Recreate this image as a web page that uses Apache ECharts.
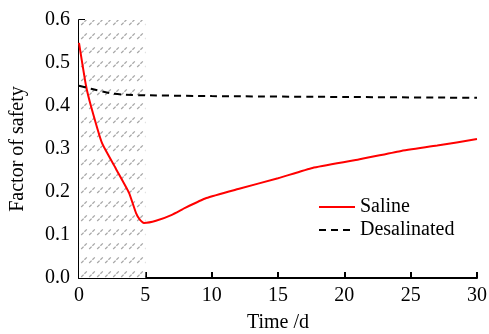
<!DOCTYPE html>
<html><head><meta charset="utf-8">
<script src="https://cdn.jsdelivr.net/npm/echarts@6/dist/echarts.min.js"></script>
<style>html,body{margin:0;padding:0;background:#fff}#c{width:489px;height:334px}</style>
</head><body><div id="c"></div>
<script>
const salineX = [0, 0.53, 0.9, 1.73, 2.8, 3.77, 4.3, 4.6, 4.9, 5.8, 7, 8, 9.6, 12, 15, 17.6, 21, 24.2, 27, 30];
const salineY = [0.547, 0.447, 0.40, 0.314, 0.253, 0.198, 0.151, 0.135, 0.128, 0.133, 0.147, 0.163, 0.186, 0.207, 0.232, 0.256, 0.275, 0.295, 0.308, 0.323];
const desalX = [0, 0.9, 2.3, 3.5, 5, 10, 20, 30];
const desalY = [0.447, 0.44, 0.43, 0.426, 0.425, 0.423, 0.421, 0.419];
const xTicks = [0, 5, 10, 15, 20, 25, 30];
const yLabels = [0, 0.1, 0.2, 0.3, 0.4, 0.5, 0.6];
const yTickStep = 0.12;
const hatchRange = [0, 5];

const pc = document.createElement('canvas');
pc.width = 8; pc.height = 14;
const g = pc.getContext('2d');
g.fillStyle = '#fff'; g.fillRect(0,0,8,14);
g.strokeStyle = '#a8a8a8'; g.lineWidth = 1.3;
g.beginPath(); g.moveTo(1.2, 11); g.lineTo(3.6, 8.6); g.moveTo(4.4, 7.8); g.lineTo(6.8, 5.4); g.stroke();

const font = '"Liberation Serif", "Times New Roman", serif';
const txt = {fontFamily: font, fontSize: 20, color: '#000'};
const chart = echarts.init(document.getElementById('c'));
chart.setOption({
  animation: false,
  textStyle: {fontFamily: font},
  grid: {left: 79, right: 12, top: 20, bottom: 56, containLabel: false, outerBoundsMode: 'none'},
  legend: {
    orient: 'vertical', left: 313, top: 192, itemWidth: 36, itemHeight: 10, itemGap: 3,
    itemStyle: {opacity: 0},
    textStyle: txt,
    data: ['Saline', 'Desalinated']
  },
  xAxis: {
    type: 'value', min: 0, max: 30, interval: 5,
    name: 'Time /d', nameLocation: 'middle', nameGap: 35,
    nameTextStyle: txt,
    axisLine: {lineStyle: {color: '#000', width: 2}},
    axisTick: {inside: true, length: 6, lineStyle: {color: '#000', width: 2}},
    axisLabel: Object.assign({margin: 8, formatter: v => xTicks.includes(v) ? String(v) : ''}, txt),
    splitLine: {show: false}
  },
  yAxis: [{
    type: 'value', min: 0, max: 0.6, interval: 0.1,
    name: 'Factor of safety', nameLocation: 'middle', nameGap: 51,
    nameTextStyle: txt,
    axisLine: {show: true, lineStyle: {color: '#000', width: 2}},
    axisTick: {show: false},
    axisLabel: Object.assign({margin: 9,
      formatter: v => yLabels.map(t=>t.toFixed(1)).includes(v.toFixed(1)) ? v.toFixed(1) : ''}, txt),
    splitLine: {show: false}
  }, {
    type: 'value', min: 0, max: 0.6, interval: yTickStep, position: 'left', offset: 0,
    axisLine: {show: false},
    axisTick: {show: true, inside: true, length: 6, lineStyle: {color: '#000', width: 2}},
    axisLabel: {show: false},
    splitLine: {show: false}
  }],
  series: [
    {
      name: 'Saline', type: 'line', symbol: 'none', smooth: 0.15, z: 3,
      lineStyle: {color: '#ff0000', width: 2}, itemStyle: {color: '#ff0000'},
      data: salineX.map((x, i) => [x, salineY[i]]),
      markArea: {
        silent: true, z: 1,
        itemStyle: {color: {image: pc, repeat: 'repeat'}},
        data: [[{xAxis: hatchRange[0], yAxis: 0}, {xAxis: hatchRange[1], yAxis: 0.6}]]
      }
    },
    {
      name: 'Desalinated', type: 'line', symbol: 'none', smooth: 0.15, z: 3,
      lineStyle: {color: '#000', width: 2, type: [7, 5]}, itemStyle: {color: '#000'},
      data: desalX.map((x, i) => [x, desalY[i]])
    }
  ]
});
</script></body></html>
